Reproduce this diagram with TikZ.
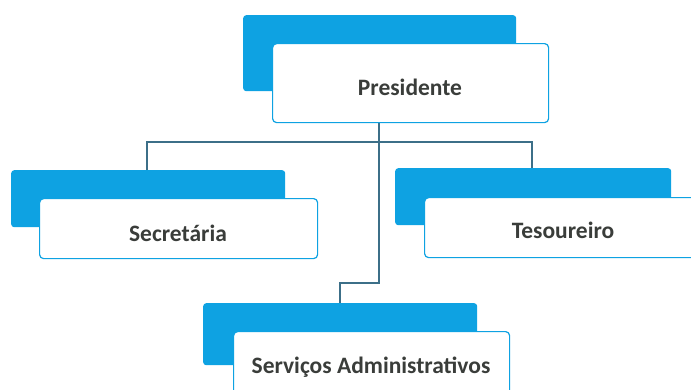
\documentclass[tikz,border=0pt]{standalone}
\usepackage{fontspec}
\setmainfont{Carlito}
\definecolor{orgblue}{HTML}{0EA2E2}
\definecolor{linecol}{HTML}{3C6F88}
\definecolor{txtcol}{HTML}{3A3D3A}
\tikzset{
  backbox/.style={fill=orgblue, rounded corners=3pt},
  frontbox/.style={fill=white, draw=orgblue, line width=1.2pt, rounded corners=4pt},
  lbl/.style={text=txtcol, font=\bfseries\fontsize{23.5}{27}\selectfont},
  conn/.style={draw=linecol, line width=2pt}
}
\begin{document}
\begin{tikzpicture}[x=1pt,y=-1pt]
\useasboundingbox (0,0) rectangle (691,389);
\clip (0,0) rectangle (691,389);
% connectors
\coordinate (pb) at (379,122);
\coordinate (hl) at (147,142);
\coordinate (hr) at (532,142);
\coordinate (jog1) at (379,283);
\coordinate (jog2) at (340,283);
% Presidente
\node[backbox, minimum width=273, minimum height=76, anchor=north west] (pback) at (243,15) {};
% Secretaria
\node[backbox, minimum width=274, minimum height=57, anchor=north west] (sback) at (11,170) {};
% Tesoureiro
\node[backbox, minimum width=276, minimum height=57, anchor=north west] (tback) at (395,168) {};
% Servicos
\node[backbox, minimum width=274, minimum height=62, anchor=north west] (vback) at (203,303) {};
\draw[conn] (pb) -- (jog1) -- (jog2) -- (jog2 |- vback.north);
\draw[conn] (hl |- sback.north) -- (hl) -- (hr) -- (hr |- tback.north);
\node[frontbox, minimum width=276, minimum height=79, anchor=north west] (pres) at (272,43) {};
\node[lbl] (prest) at (410,87) {Presidente};
\node[frontbox, minimum width=278, minimum height=60, anchor=north west] (sec) at (39,198) {};
\node[lbl] (sect) at (178,233) {Secretária};
\node[frontbox, minimum width=278, minimum height=60, anchor=north west] (tes) at (424,197) {};
\node[lbl] (test) at (563,230) {Tesoureiro};
\node[frontbox, minimum width=276, minimum height=70, anchor=north west] (serv) at (233,331) {};
\node[lbl] (servt) at (371,367) {Serviços Administrativos};
\end{tikzpicture}
\end{document}
